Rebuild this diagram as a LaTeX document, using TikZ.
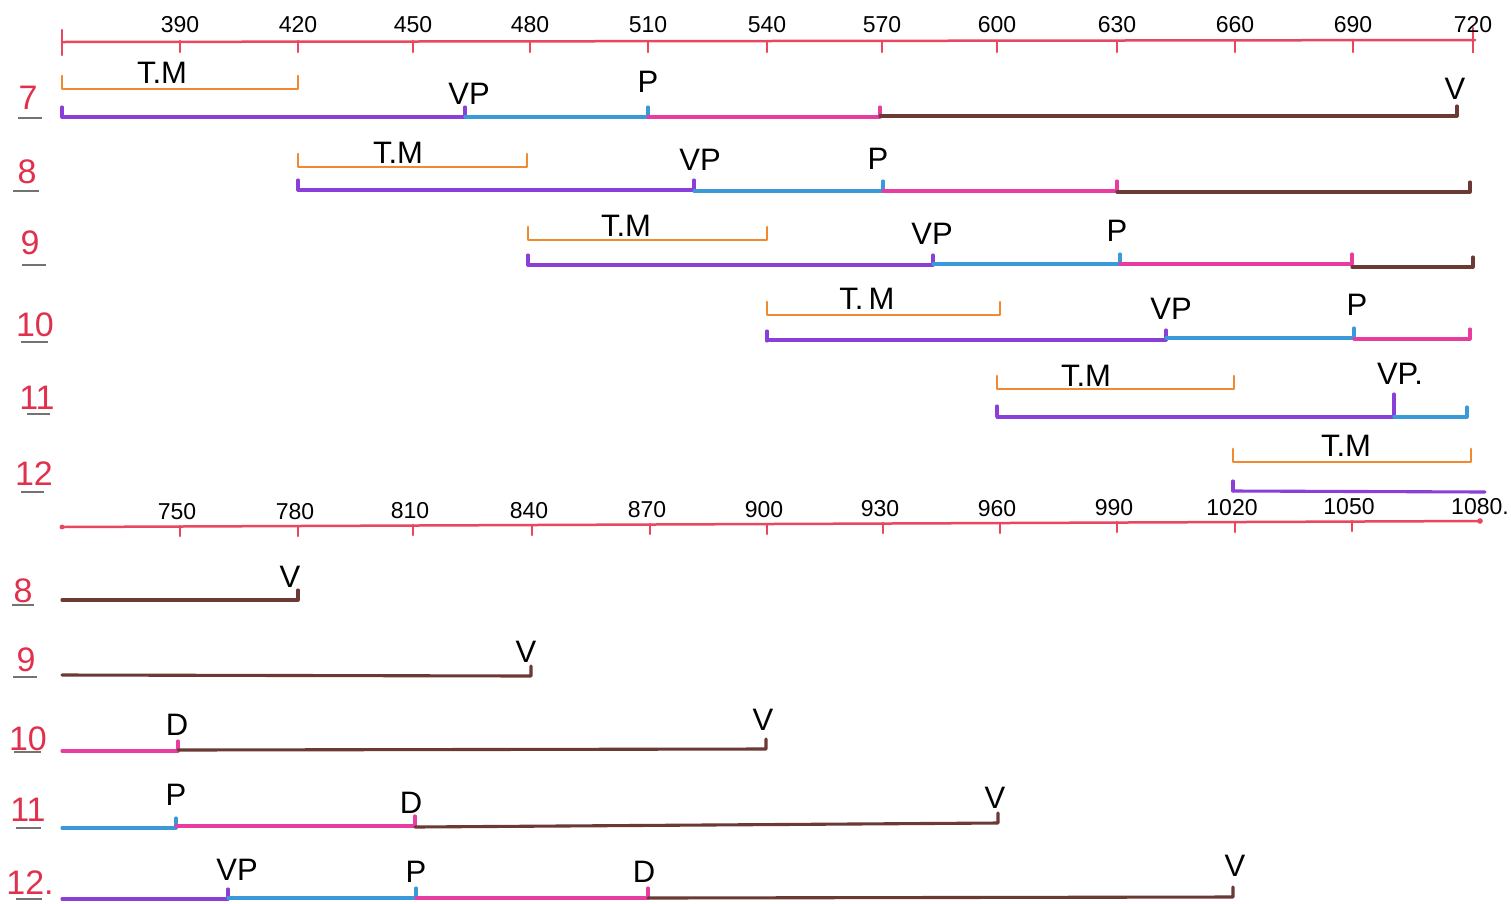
\documentclass[tikz,border=0pt]{standalone}
\usepackage{fontspec}
\setmainfont{Liberation Sans}
\definecolor{axisred}{HTML}{E8475F}
\definecolor{rowred}{HTML}{E0304C}
\definecolor{tmorange}{HTML}{F08A30}
\definecolor{phvp}{HTML}{8B3FD9}
\definecolor{php}{HTML}{3A9AD9}
\definecolor{phd}{HTML}{E83CA0}
\definecolor{phv}{HTML}{6B3A35}
% orange T.M bracket: x1, x2, y
\newcommand\tmspan[3]{\draw[tmline] (#1,#3-13) -- (#1,#3) -- (#2,#3) -- (#2,#3-13);}
% coloured phase segment with a tick at its right end: colour, x1, x2, y
\newcommand\phaseseg[4]{\draw[seg,#1] (#2,#4) -- (#3,#4) -- (#3,#4-10);}
% start tick of a row: colour, x, y
\newcommand\starttick[3]{\draw[seg,#1] (#2,#3-10) -- (#2,#3);}
% row number with underline: name, x, y, text, underline y, x1, x2
\newcommand\rownum[7]{\node[rowlbl] (#1) at (#2,#3) {#4};
  \draw[uline] (#6,#5) -- (#7,#5);}
\begin{document}
\begin{tikzpicture}[x=1pt,y=-1pt,
  axis/.style={draw=axisred,line width=2.5pt,line cap=round},
  tmline/.style={draw=tmorange,line width=2.8pt,line cap=round,line join=round},
  seg/.style={line width=3.1pt,line cap=round,line join=round},
  uline/.style={draw=black!55,line width=1.3pt},
  lbl/.style={inner sep=0pt,font=\fontsize{31}{31}\selectfont},
  num/.style={inner sep=0pt,font=\fontsize{23}{23}\selectfont},
  rowlbl/.style={inner sep=0pt,text=rowred,font=\fontsize{34}{34}\selectfont}]
\useasboundingbox[fill=white] (0,0) rectangle (1511,903);

% ---------- upper time axis (360 ... 720) ----------
\draw[axis] (62,42) -- (1475,40);
\draw[axis] (62,30) -- (62,55);
\draw[axis] (1473,28) -- (1473,52);
\foreach \x/\v in {180/390,298/420,413/450,530/480,648/510,767/540,882/570,
                   997/600,1117/630,1235/660,1353/690,1473/720}{
  \draw[axis] (\x,41) -- (\x,52);
  \node[num] (ta\v) at (\x,25) {\v};
}

% ---------- rows 7 to 12, upper part ----------
% row 7
\rownum{r7}{28}{98}{7}{118}{18}{42}
\tmspan{62}{298}{89}
\node[lbl] (tm7) at (162,73) {T.M};
\starttick{phvp}{62}{117}
\phaseseg{phvp}{62}{465}{117}
\phaseseg{php}{465}{648}{117}
\phaseseg{phd}{648}{880}{117}
\phaseseg{phv}{880}{1457}{116}
\node[lbl] (vp7) at (469,94) {VP};
\node[lbl] (p7) at (648,82) {P};
\node[lbl] (v7) at (1455,89) {V};

% row 8
\rownum{r8}{27}{172}{8}{191}{13}{39}
\tmspan{298}{527}{167}
\node[lbl] (tm8) at (398,153) {T.M};
\starttick{phvp}{298}{190}
\phaseseg{phvp}{298}{694}{190}
\phaseseg{php}{694}{883}{191}
\phaseseg{phd}{883}{1117}{191}
\phaseseg{phv}{1117}{1470}{192}
\node[lbl] (vp8) at (700,160) {VP};
\node[lbl] (p8) at (878,159) {P};

% row 9
\rownum{r9}{30}{243}{9}{265}{22}{46}
\tmspan{528}{767}{240}
\node[lbl] (tm9) at (626,226) {T.M};
\starttick{phvp}{528}{265}
\phaseseg{phvp}{528}{933}{265}
\phaseseg{php}{933}{1120}{264}
\phaseseg{phd}{1120}{1352}{264}
\phaseseg{phv}{1352}{1473}{267}
\node[lbl] (vp9) at (932,234) {VP};
\node[lbl] (p9) at (1117,231) {P};

% row 10
\rownum{r10}{35}{325}{10}{342}{21}{48}
\tmspan{767}{1000}{315}
\node[lbl] (tm10) at (867,299) {T.\,M};
\starttick{phvp}{767}{341}
\phaseseg{phvp}{767}{1166}{340}
\phaseseg{php}{1166}{1354}{338}
\phaseseg{phd}{1354}{1470}{339}
\node[lbl] (vp10) at (1171,309) {VP};
\node[lbl] (p10) at (1357,305) {P};

% row 11
\rownum{r11}{37}{398}{11}{414}{27}{50}
\tmspan{997}{1234}{389}
\node[lbl] (tm11) at (1086,376) {T.M};
\starttick{phvp}{997}{416}
\phaseseg{phvp}{997}{1394}{417}
\draw[seg,phvp] (1394,417) -- (1394,394);
\phaseseg{php}{1394}{1467}{417}
\node[lbl] (vp11) at (1400,374) {VP.};

% row 12
\rownum{r12}{34}{474}{12}{492}{21}{44}
\tmspan{1233}{1471}{462}
\node[lbl] (tm12) at (1346,446) {T.M};
\starttick{phvp}{1233}{491}
\draw[seg,phvp] (1233,491) -- (1485,492);

% ---------- lower time axis (720 ... 1080) ----------
\draw[axis] (62,527) -- (1480,521);
\fill[axisred] (62,527) circle (2.4pt);
\fill[axisred] (1480,521) circle (2.8pt);
\foreach \x/\y/\v in {180/526/750,298/526/780,413/525/810,532/525/840,650/524/870,
                      767/524/900,883/523/930,1000/523/960,1117/522/990,
                      1235/522/1020,1352/521/1050}{
  \draw[axis] (\x,\y) -- (\x,\y+10);
  \node[num] (tb\v) at (\x-3,\y-14) {\v};
}
\node[num] (tb1080) at (1480,507) {1080.};

% ---------- rows 8 to 12, lower part ----------
% row 8
\rownum{r8b}{23}{591}{8}{605}{12}{34}
\draw[seg,phv] (62,600) -- (298,600) -- (298,590);
\node[lbl] (v8) at (290,577) {V};

% row 9
\rownum{r9b}{26}{660}{9}{677}{13}{37}
\draw[seg,phv] (62,675) -- (531,676) -- (531,666);
\node[lbl] (v9) at (526,652) {V};

% row 10
\rownum{r10b}{28}{739}{10}{752}{14}{41}
\phaseseg{phd}{62}{178}{751}
\draw[seg,phv] (178,750) -- (766,749) -- (766,739);
\node[lbl] (d10) at (177,725) {D};
\node[lbl] (v10) at (763,720) {V};

% row 11
\rownum{r11b}{28}{810}{11}{828}{16}{41}
\phaseseg{php}{62}{176}{828}
\phaseseg{phd}{176}{415}{826}
\draw[seg,phv] (415,827) -- (998,823) -- (998,813);
\node[lbl] (p11) at (176,795) {P};
\node[lbl] (d11) at (411,803) {D};
\node[lbl] (v11) at (995,798) {V};

% row 12
\rownum{r12b}{30}{883}{12.}{899}{16}{42}
\phaseseg{phvp}{62}{228}{899}
\phaseseg{php}{228}{416}{898}
\phaseseg{phd}{416}{648}{898}
\draw[seg,phv] (648,898) -- (1233,897) -- (1233,887);
\node[lbl] (vp12) at (237,870) {VP};
\node[lbl] (p12) at (416,872) {P};
\node[lbl] (d12) at (644,872) {D};
\node[lbl] (v12) at (1235,866) {V};
\end{tikzpicture}
\end{document}
